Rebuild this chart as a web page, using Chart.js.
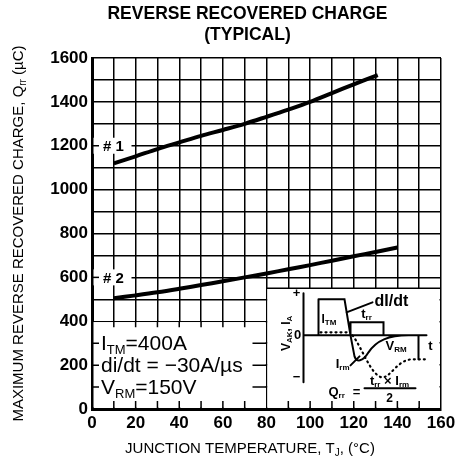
<!DOCTYPE html>
<html>
<head>
<meta charset="utf-8">
<script src="https://cdn.jsdelivr.net/npm/chart.js@4.4.1/dist/chart.umd.min.js"></script>
<style>
  html, body { margin: 0; padding: 0; background: #fff; }
</style>
</head>
<body>
<canvas id="qrr-chart" width="455" height="466"></canvas>
<script>
// typical curves
const tempA = [10, 20, 30, 40, 50, 60, 70, 80, 90, 100, 110, 120, 131];
const qrrA = [1120, 1152, 1185, 1215, 1245, 1272, 1300, 1332, 1365, 1400, 1440, 1480, 1522];
const tempB = [10, 20, 30, 40, 50, 60, 70, 80, 90, 100, 110, 120, 130, 140];
const qrrB = [505, 518, 532, 548, 565, 582, 600, 618, 637, 656, 676, 696, 716, 736];
const xTickLabels = [0, 20, 40, 60, 80, 100, 120, 140, 160];
const yTickLabels = [0, 200, 400, 600, 800, 1000, 1200, 1400, 1600];

const FONT = "'Liberation Sans', Arial, sans-serif";

// text with subscripts: parts = [[text, isSub], ...]
function richText(ctx, x, y, parts, size, weight, align) {
    const sub = Math.round(size * 0.64);
    const widths = parts.map(p => {
        ctx.font = weight + ' ' + (p[1] ? sub : size) + 'px ' + FONT;
        return ctx.measureText(p[0]).width;
    });
    const total = widths.reduce((a, b) => a + b, 0);
    let cx = align === 'center' ? x - total / 2 : align === 'right' ? x - total : x;
    ctx.textAlign = 'left';
    ctx.textBaseline = 'middle';
    parts.forEach((p, i) => {
        ctx.font = weight + ' ' + (p[1] ? sub : size) + 'px ' + FONT;
        ctx.fillText(p[0], cx, y + (p[1] ? size * 0.28 : 0));
        cx += widths[i];
    });
    return total;
}

// white boxes over the grid (conditions + waveform inset)
const panels = {
    id: 'panels',
    beforeDatasetsDraw(chart) {
        const { ctx, scales: { x, y } } = chart;
        const px = v => x.getPixelForValue(v), py = v => y.getPixelForValue(v);
        ctx.save();
        ctx.fillStyle = '#fff';
        ctx.fillRect(px(0) + 1.5, py(400) + 0.8, px(80) - px(0) - 2.3, py(0) - py(400) - 2.3);
        ctx.fillRect(px(80) + 0.8, py(550), px(160) - px(80) - 2.3, py(0) - py(550) - 1.5);
        ctx.strokeStyle = '#000';
        ctx.lineWidth = 1.5;
        ctx.beginPath();
        ctx.moveTo(px(80), py(550));
        ctx.lineTo(px(160), py(550));
        for (let t = 10; t < 160; t += 10) {
            if (t === 80) continue;
            ctx.moveTo(px(t), py(0));
            ctx.lineTo(px(t), py(0) - 8);
            if (t < 80) {
                ctx.moveTo(px(t), py(400));
                ctx.lineTo(px(t), py(400) + 6);
            }
        }
        for (let v = 100; v < 400; v += 100) {
            ctx.moveTo(px(0), py(v));
            ctx.lineTo(px(0) + 7, py(v));
            ctx.moveTo(px(80), py(v));
            ctx.lineTo(px(80) - 14, py(v));
        }
        ctx.stroke();
        ctx.restore();
    }
};

const notes = {
    id: 'notes',
    afterDatasetsDraw(chart) {
        const { ctx, chartArea, scales: { x, y } } = chart;
        const px = v => x.getPixelForValue(v), py = v => y.getPixelForValue(v);
        ctx.save();
        ctx.fillStyle = '#000';
        ctx.strokeStyle = '#000';

        // curve tags
        [['# 1', 1200], ['# 2', 600]].forEach(([txt, v]) => {
            ctx.fillStyle = '#fff';
            ctx.fillRect(px(0) + 1.5, py(v) - 8, 38, 16);
            ctx.fillStyle = '#000';
            ctx.lineWidth = 1.5;
            ctx.beginPath();
            ctx.moveTo(px(0), py(v));
            ctx.lineTo(px(0) + 7, py(v));
            ctx.stroke();
            ctx.font = 'bold 15px ' + FONT;
            ctx.textAlign = 'left';
            ctx.textBaseline = 'middle';
            ctx.fillText(txt, px(0) + 11, py(v) + 1);
        });

        // test conditions
        const cx = px(0) + 9;
        richText(ctx, cx, py(300) + 1, [['I', 0], ['TM', 1], ['=400A', 0]], 21, 'normal', 'left');
        richText(ctx, cx, py(200) + 1, [['di/dt = \u221230A/\u00b5s', 0]], 21, 'normal', 'left');
        richText(ctx, cx, py(100) + 1, [['V', 0], ['RM', 1], ['=150V', 0]], 21, 'normal', 'left');

        // waveform inset
        const L = px(80), T = py(550);
        ctx.lineWidth = 2;
        ctx.lineCap = 'round';
        ctx.beginPath();
        ctx.moveTo(L + 37, T + 5); ctx.lineTo(L + 37, T + 94);          // V/I axis
        ctx.moveTo(L + 37, T + 47); ctx.lineTo(L + 160, T + 47);        // time axis
        ctx.moveTo(L + 52, T + 11); ctx.lineTo(L + 52, T + 47);         // ITM marker
        ctx.moveTo(L + 52, T + 11); ctx.lineTo(L + 78, T + 11);         // pulse top
        ctx.lineTo(L + 84, T + 47);
        ctx.lineTo(L + 88, T + 68);
        ctx.bezierCurveTo(L + 90, T + 74, L + 96, T + 74, L + 102, T + 64);
        ctx.bezierCurveTo(L + 110, T + 52, L + 122, T + 47, L + 142, T + 47);
        ctx.moveTo(L + 84, T + 47); ctx.lineTo(L + 84, T + 34);         // trr bracket
        ctx.lineTo(L + 117, T + 34); ctx.lineTo(L + 117, T + 47);
        ctx.moveTo(L + 152, T + 48); ctx.lineTo(L + 152, T + 71);       // VRM marker
        ctx.moveTo(L + 80, T + 24); ctx.lineTo(L + 106, T + 14);        // dI/dt leader
        ctx.moveTo(L + 84, T + 77); ctx.lineTo(L + 93, T + 68);         // Irm leader
        ctx.moveTo(L + 98, T + 100); ctx.lineTo(L + 149, T + 100);      // fraction bar
        ctx.stroke();

        ctx.setLineDash([1, 4]);
        ctx.lineWidth = 2.2;
        ctx.beginPath();
        ctx.moveTo(L + 54, T + 44); ctx.lineTo(L + 82, T + 44);
        ctx.moveTo(L + 86, T + 47);
        ctx.bezierCurveTo(L + 96, T + 60, L + 104, T + 86, L + 115, T + 89);
        ctx.bezierCurveTo(L + 124, T + 90, L + 130, T + 72, L + 145, T + 71);
        ctx.lineTo(L + 160, T + 71);
        ctx.stroke();
        ctx.setLineDash([]);

        ctx.font = 'bold 13px ' + FONT;
        ctx.textAlign = 'center';
        ctx.textBaseline = 'middle';
        ctx.fillText('+', L + 30, T + 5);
        ctx.fillText('\u2212', L + 30, T + 89);
        ctx.fillText('0', L + 31, T + 47);
        ctx.fillText('t', L + 164, T + 58);
        richText(ctx, L + 55, T + 31, [['I', 0], ['TM', 1]], 12, 'bold', 'left');
        richText(ctx, L + 100, T + 26, [['t', 0], ['rr', 1]], 13, 'bold', 'center');
        richText(ctx, L + 108, T + 13, [['dI/dt', 0]], 16, 'bold', 'left');
        richText(ctx, L + 119, T + 58, [['V', 0], ['RM', 1]], 13, 'bold', 'left');
        richText(ctx, L + 83, T + 76, [['I', 0], ['rm', 1]], 13, 'bold', 'right');
        richText(ctx, L + 62, T + 104, [['Q', 0], ['rr', 1]], 13, 'bold', 'left');
        richText(ctx, L + 90, T + 104, [['=', 0]], 13, 'bold', 'center');
        richText(ctx, L + 123, T + 93, [['t', 0], ['rr', 1], [' \u00d7 I', 0], ['rm', 1]], 13, 'bold', 'center');
        richText(ctx, L + 123, T + 110, [['2', 0]], 12, 'bold', 'center');
        ctx.save();
        ctx.translate(L + 20, T + 45);
        ctx.rotate(-Math.PI / 2);
        richText(ctx, 0, 0, [['V', 0], ['AK', 1], [', I', 0], ['A', 1]], 12, 'bold', 'center');
        ctx.restore();

        // axis titles
        ctx.fillStyle = '#000';
        richText(ctx, 250, 449, [['JUNCTION TEMPERATURE, T', 0], ['J', 1], [', (\u00b0C)', 0]], 15, 'normal', 'center');
        ctx.save();
        ctx.translate(19, (chartArea.top + chartArea.bottom) / 2);
        ctx.rotate(-Math.PI / 2);
        richText(ctx, 0, 0, [['MAXIMUM REVERSE RECOVERED CHARGE, Q', 0], ['rr', 1], [' (\u00b5C)', 0]], 15, 'normal', 'center');
        ctx.restore();
        ctx.restore();
    }
};

const tickFont = { family: FONT, size: 17, weight: 'bold' };

new Chart(document.getElementById('qrr-chart').getContext('2d'), {
    type: 'line',
    data: {
        datasets: [
            {
                label: '# 1',
                data: tempA.map((t, i) => ({ x: t, y: qrrA[i] })),
                borderColor: '#000',
                borderWidth: 4,
                pointRadius: 0,
                tension: 0.35,
                fill: false
            },
            {
                label: '# 2',
                data: tempB.map((t, i) => ({ x: t, y: qrrB[i] })),
                borderColor: '#000',
                borderWidth: 4,
                pointRadius: 0,
                tension: 0.35,
                fill: false
            }
        ]
    },
    options: {
        responsive: false,
        animation: false,
        layout: { padding: { left: 40, right: 0, top: 0, bottom: 0 } },
        plugins: {
            legend: { display: false },
            tooltip: { enabled: false },
            title: {
                display: true,
                text: ['REVERSE RECOVERED CHARGE', '(TYPICAL)'],
                color: '#000',
                font: { family: FONT, size: 17.5, weight: 'bold', lineHeight: 1.2 },
                padding: { top: 4, bottom: 12 }
            }
        },
        scales: {
            x: {
                type: 'linear',
                min: 0,
                max: 160,
                afterFit(scale) {
                    scale.height = 57;
                    scale.paddingRight = 14;
                },
                ticks: {
                    stepSize: 10,
                    autoSkip: false,
                    maxRotation: 0,
                    padding: 4,
                    color: '#000',
                    font: tickFont,
                    callback: v => xTickLabels.includes(v) ? v : ''
                },
                grid: { color: '#000', lineWidth: 1.5, drawTicks: false },
                border: { color: '#000', width: 3 }
            },
            y: {
                min: 0,
                max: 1600,
                afterFit(scale) {
                    scale.width = 52;
                },
                ticks: {
                    stepSize: 100,
                    autoSkip: false,
                    padding: 4,
                    color: '#000',
                    font: tickFont,
                    callback: v => yTickLabels.includes(v) ? v : ''
                },
                grid: { color: '#000', lineWidth: 1.5, drawTicks: false },
                border: { color: '#000', width: 3 }
            }
        }
    },
    plugins: [panels, notes]
});
</script>
</body>
</html>
